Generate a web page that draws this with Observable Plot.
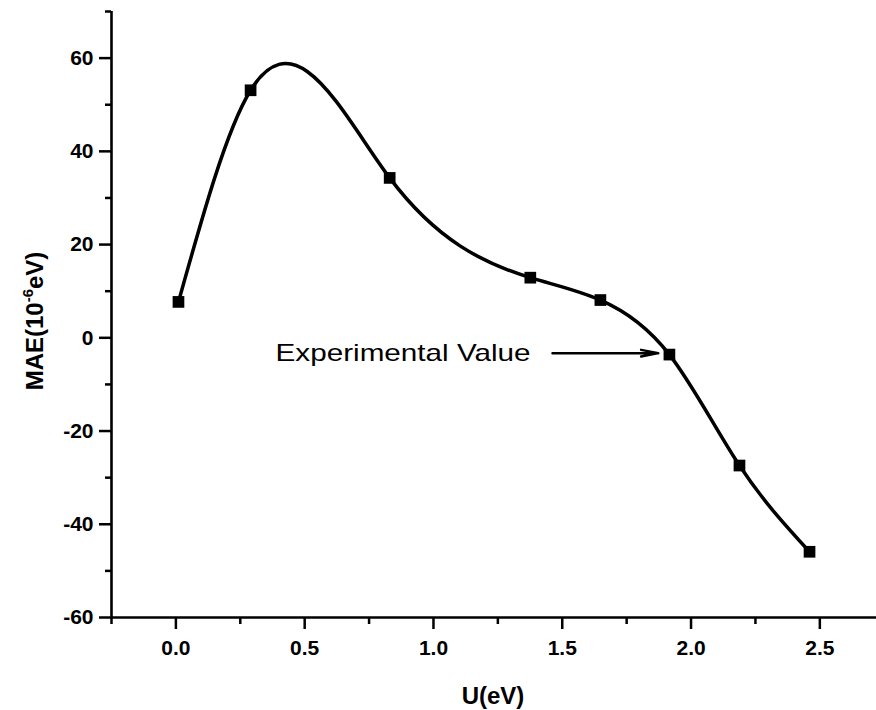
<!DOCTYPE html>
<html>
<head>
<meta charset="utf-8">
<script src="https://cdn.jsdelivr.net/npm/d3@7"></script>
<script src="https://cdn.jsdelivr.net/npm/@observablehq/plot@0.6"></script>
<style>
  html, body { margin: 0; padding: 0; background: #fff; }
  #chart { width: 876px; height: 710px; }
</style>
</head>
<body>
<div id="chart"></div>
<script>
// ---- data ----
const U = [0.01, 0.29, 0.83, 1.376, 1.648, 1.916, 2.188, 2.46];
const MAE = [7.7, 53.1, 34.3, 12.9, 8.1, -3.6, -27.4, -45.9];
const xMajorTicks = [0, 0.5, 1.0, 1.5, 2.0, 2.5];
const xMinorTicks = [-0.25, 0.25, 0.75, 1.25, 1.75, 2.25];
const yMajorTicks = [-60, -40, -20, 0, 20, 40, 60];
const yMinorTicks = [-50, -30, -10, 10, 30, 50, 70];
const xLabel = "U(eV)";
const annotationText = "Experimental Value";

const data = U.map((u, i) => ({u, mae: MAE[i]}));

const X0 = -0.25, X1 = 2.72, Y0 = -60, Y1 = 70;
const font = "'Liberation Sans', Arial, Helvetica, sans-serif";

// Custom curve: natural cubic spline y(x) (as Origin's "Spline" connection),
// each segment drawn as its exact cubic Bezier.
function splineCurve(context) {
  let xs, ys;
  return {
    areaStart() {}, areaEnd() {},
    lineStart() { xs = []; ys = []; },
    point(x, y) { xs.push(+x); ys.push(+y); },
    lineEnd() {
      const n = xs.length;
      if (!n) return;
      context.moveTo(xs[0], ys[0]);
      if (n < 3) { for (let i = 1; i < n; i++) context.lineTo(xs[i], ys[i]); return; }
      const h = [], s = [];
      for (let i = 0; i < n - 1; i++) { h[i] = xs[i + 1] - xs[i]; s[i] = (ys[i + 1] - ys[i]) / h[i]; }
      const M = new Array(n).fill(0);
      const a = [], b = [], c = [], d = [];
      for (let i = 1; i < n - 1; i++) { a[i] = h[i - 1]; b[i] = 2 * (h[i - 1] + h[i]); c[i] = h[i]; d[i] = 6 * (s[i] - s[i - 1]); }
      for (let i = 2; i < n - 1; i++) { const w = a[i] / b[i - 1]; b[i] -= w * c[i - 1]; d[i] -= w * d[i - 1]; }
      M[n - 2] = d[n - 2] / b[n - 2];
      for (let i = n - 3; i >= 1; i--) M[i] = (d[i] - c[i] * M[i + 1]) / b[i];
      for (let i = 0; i < n - 1; i++) {
        const d0 = s[i] - h[i] * (2 * M[i] + M[i + 1]) / 6;
        const d1 = s[i] + h[i] * (M[i] + 2 * M[i + 1]) / 6;
        context.bezierCurveTo(xs[i] + h[i] / 3, ys[i] + d0 * h[i] / 3,
                              xs[i + 1] - h[i] / 3, ys[i + 1] - d1 * h[i] / 3,
                              xs[i + 1], ys[i + 1]);
      }
    }
  };
}

const chart = Plot.plot({
  width: 876,
  height: 710,
  marginLeft: 111,
  marginRight: 0,
  marginTop: 11,
  marginBottom: 93,
  style: {fontFamily: font, fontSize: "21px", fontWeight: "bold", color: "#000", background: "#fff"},
  x: {domain: [X0, X1], axis: null},
  y: {domain: [Y0, Y1], axis: null},
  marks: [
    Plot.axisY({ticks: yMinorTicks, tickSize: 6, text: null, strokeWidth: 2.5}),
    Plot.axisY({ticks: yMajorTicks, tickSize: 12, tickPadding: 6, strokeWidth: 2.5, tickFormat: d => String(d), label: null}),
    Plot.axisX({ticks: xMinorTicks, tickSize: 7, text: null, strokeWidth: 2.5}),
    Plot.axisX({ticks: xMajorTicks, tickSize: 12, tickPadding: 11, strokeWidth: 2.5, tickFormat: d3.format(".1f"), label: null}),
    Plot.ruleX([X0], {y1: Y0, y2: Y1, stroke: "#000", strokeWidth: 2.6}),
    Plot.ruleY([Y0], {x1: X0, x2: X1, stroke: "#000", strokeWidth: 2.6}),
    Plot.line(data, {x: "u", y: "mae", curve: splineCurve, stroke: "#000", strokeWidth: 3.5}),
    Plot.dot(data, {x: "u", y: "mae", symbol: "square", r: 6.6, fill: "#000", stroke: null}),
    Plot.arrow([{x1: 1.462, x2: 1.873, y: -3.3}], {x1: "x1", x2: "x2", y1: "y", y2: "y", stroke: "#000", strokeWidth: 2.4, headLength: 11, headAngle: 22}),
    Plot.text([annotationText], {x: 0.387, y: -3.4, text: d => d, textAnchor: "start", lineAnchor: "middle", fontSize: 24, fontWeight: "normal", fill: "#000"})
  ]
});

document.getElementById("chart").appendChild(chart);

const svg = d3.select(chart);
// tick label fonts
svg.selectAll('g[aria-label="x-axis tick label"], g[aria-label="y-axis tick label"]')
  .attr("font-size", 21).style("font-size", "21px")
  .attr("font-weight", "bold").style("font-weight", "bold")
  .style("font-family", font);
// stretch the annotation to the reference width
svg.selectAll("text").filter(function() { return this.textContent === annotationText; })
  .attr("textLength", 255).attr("lengthAdjust", "spacingAndGlyphs")
  .style("font-size", "24px").style("font-weight", "normal");

// x axis title
svg.append("text")
  .attr("x", 493).attr("y", 704)
  .attr("text-anchor", "middle")
  .style("font-family", font).style("font-size", "24px").style("font-weight", "bold")
  .attr("fill", "#000")
  .text(xLabel);

// y axis title with superscript
const yt = svg.append("text")
  .attr("transform", "translate(43,321) rotate(-90)")
  .attr("text-anchor", "middle")
  .style("font-family", font).style("font-size", "24px").style("font-weight", "bold")
  .attr("fill", "#000");
yt.append("tspan").text("MAE(10");
yt.append("tspan").attr("dy", -10).style("font-size", "15px").text("-6");
yt.append("tspan").attr("dy", 10).text("eV)");
</script>
</body>
</html>
